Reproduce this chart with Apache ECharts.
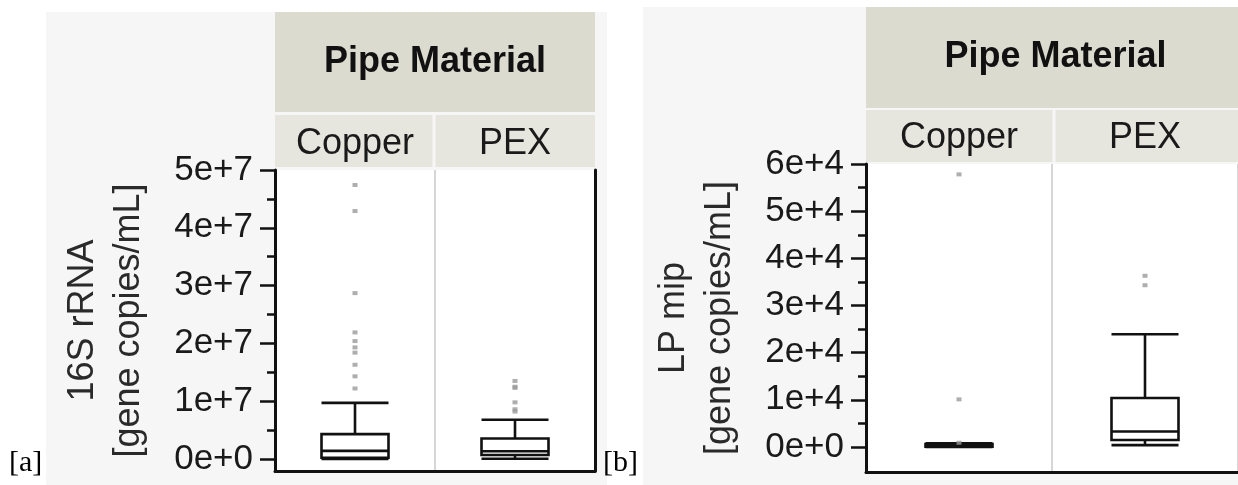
<!DOCTYPE html>
<html>
<head>
<meta charset="utf-8">
<script src="https://cdn.jsdelivr.net/npm/echarts@6/dist/echarts.min.js"></script>
<style>
html,body{margin:0;padding:0;background:#fff;}
#chart{width:1238px;height:485px;}
</style>
</head>
<body>
<div id="chart"></div>
<script>
// ---------- data ----------
const categories = ['Copper', 'PEX'];
const headerTitle = 'Pipe Material';
const yTitleA = '16S rRNA\n[gene copies/mL]';
const yTitleB = 'LP mip\n[gene copies/mL]';
const panelTagA = '[a]';
const panelTagB = '[b]';

// boxplot stats: [min, Q1, median, Q3, max]
const boxA = [
  [0, 220000, 1400000, 4300000, 9700000],
  [50000, 690000, 1330000, 3550000, 6800000]
];
const outliersCopperA = [47400000, 42900000, 28700000, 21900000, 20400000, 19300000, 18400000, 16300000, 14300000, 12200000];
const outliersPexA = [13500000, 12500000, 12300000, 9800000, 8600000, 8200000];

const boxB = [
  [0, 60, 250, 650, 800],
  [400, 1500, 3300, 10400, 23900]
];
const outliersCopperB = [57800, 10100, 900];
const outliersPexB = [36300, 34300];

const tickLabelsA = [0, 1e7, 2e7, 3e7, 4e7, 5e7];
const minorTicksA = [5e6, 1.5e7, 2.5e7, 3.5e7, 4.5e7];
const tickLabelsB = [0, 1e4, 2e4, 3e4, 4e4, 5e4, 6e4];
const minorTicksB = [5e3, 1.5e4, 2.5e4, 3.5e4, 4.5e4, 5.5e4];

// ---------- layout ----------
const W = 1238, H = 485;
const gA = {left: 275, top: 170, right: 595, bottom: 471, min: -2080000, max: 5e7};
const gB = {left: 866, top: 164, right: 1245, bottom: 472, min: -5300, max: 60000};
const FONT = '"Liberation Sans", Arial, sans-serif';
const SERIF = '"Liberation Serif", "Times New Roman", serif';

const fmt = v => Number(v).toExponential(0);

function gridOf(g) {
  return {left: g.left, top: g.top, width: g.right - g.left, height: g.bottom - g.top,
          show: true, backgroundColor: '#ffffff', borderWidth: 0, containLabel: false};
}
function catTop(gi) {
  return {type: 'category', gridIndex: gi, data: categories, position: 'top',
    boundaryGap: true,
    axisLine: {show: false, onZero: false}, axisTick: {show: false},
    axisLabel: {fontSize: 36, color: '#1a1a1a', fontFamily: FONT, margin: 8},
    splitLine: {show: true, lineStyle: {color: '#d6d6d6', width: 2}}};
}
function catBottom(gi) {
  return {type: 'category', gridIndex: gi, data: categories, position: 'bottom',
    axisLine: {show: true, onZero: false, lineStyle: {color: '#111', width: 3}},
    axisTick: {show: false}, axisLabel: {show: false}, splitLine: {show: false}};
}
function valAxis(gi, g, labels, name) {
  return {type: 'value', gridIndex: gi, min: g.min, max: g.max, position: 'left',
    name: name, nameLocation: 'middle', nameRotate: 90, nameGap: 123,
    nameTextStyle: {fontSize: 36, color: '#2a2a2a', fontFamily: FONT, lineHeight: 46, align: 'center'},
    axisLine: {show: true, onZero: false, lineStyle: {color: '#111', width: 3}},
    axisTick: {show: true, length: 15, customValues: labels, lineStyle: {color: '#111', width: 2.5}},
    axisLabel: {customValues: labels, formatter: fmt, fontSize: 35, color: '#1a1a1a', fontFamily: FONT, margin: 22},
    splitLine: {show: false}};
}
function minorAxis(gi, g, minors) {
  return {type: 'value', gridIndex: gi, min: g.min, max: g.max, position: 'left',
    axisLine: {show: false, onZero: false},
    axisTick: {show: true, length: 8, customValues: minors, lineStyle: {color: '#111', width: 2.5}},
    axisLabel: {show: false}, splitLine: {show: false}};
}
function rightAxis(gi) {
  return {type: 'value', gridIndex: gi, position: 'right', min: 0, max: 1,
    axisLine: {show: true, onZero: false, lineStyle: {color: '#111', width: 3}},
    axisTick: {show: false}, axisLabel: {show: false}, splitLine: {show: false}};
}
function pts(idx, arr) { return arr.map(v => [idx, v]); }

function boxSeries(xi, yi, data) {
  return {type: 'boxplot', xAxisIndex: xi, yAxisIndex: yi, data: data,
    boxWidth: [67, 67], silent: true,
    itemStyle: {color: 'rgba(255,255,255,0)', borderColor: '#111', borderWidth: 2.6},
    emphasis: {disabled: true}};
}
function outSeries(xi, yi, data) {
  return {type: 'scatter', xAxisIndex: xi, yAxisIndex: yi, data: data,
    symbol: 'rect', symbolSize: [5, 4], silent: true,
    itemStyle: {color: '#9a9a9a'}, emphasis: {disabled: true}, z: 3};
}

function headerGraphics(g, hTop, hBot, sTop, sBot, divX) {
  const els = [];
  els.push({type: 'rect', z: -50, shape: {x: g.left, y: hTop, width: g.right - g.left, height: hBot - hTop},
            style: {fill: '#dcdbd0'}});
  els.push({type: 'rect', z: -50, shape: {x: g.left, y: sTop, width: divX - g.left - 1.5, height: sBot - sTop},
            style: {fill: '#e7e6de'}});
  els.push({type: 'rect', z: -50, shape: {x: divX + 1.5, y: sTop, width: g.right - divX - 1.5, height: sBot - sTop},
            style: {fill: '#e7e6de'}});
  els.push({type: 'text', z: -40, x: (g.left + g.right) / 2, y: (hTop + hBot) / 2,
            style: {text: headerTitle, fontSize: 36, fontWeight: 'bold', fill: '#111', fontFamily: FONT,
                    align: 'center', verticalAlign: 'middle'}});
  return els;
}

const graphics = [
  {type: 'rect', z: -100, shape: {x: 46, y: 12, width: 561, height: H - 12}, style: {fill: '#f6f6f6'}},
  {type: 'rect', z: -100, shape: {x: 643, y: 7, width: W - 643, height: H - 7}, style: {fill: '#f6f6f6'}},
  ...headerGraphics(gA, 12, 112, 115, 167, 434),
  ...headerGraphics(gB, 7, 108, 110, 162, 1054),
  {type: 'text', x: 9, y: 478, style: {text: panelTagA, fontSize: 30, fill: '#000', fontFamily: SERIF, verticalAlign: 'bottom'}},
  {type: 'text', x: 603, y: 478, style: {text: panelTagB, fontSize: 30, fill: '#000', fontFamily: SERIF, verticalAlign: 'bottom'}}
];

const option = {
  animation: false,
  backgroundColor: '#ffffff',
  grid: [gridOf(gA), gridOf(gB)],
  xAxis: [catTop(0), catBottom(0), catTop(1), catBottom(1)],
  yAxis: [valAxis(0, gA, tickLabelsA, yTitleA), rightAxis(0), minorAxis(0, gA, minorTicksA),
          valAxis(1, gB, tickLabelsB, yTitleB), minorAxis(1, gB, minorTicksB)],
  series: [
    boxSeries(0, 0, boxA),
    outSeries(0, 0, pts(0, outliersCopperA)),
    outSeries(0, 0, pts(1, outliersPexA)),
    boxSeries(2, 3, boxB),
    outSeries(2, 3, pts(0, outliersCopperB)),
    outSeries(2, 3, pts(1, outliersPexB))
  ],
  graphic: graphics
};

const chart = echarts.init(document.getElementById('chart'), null, {renderer: 'canvas'});
chart.setOption(option);
</script>
</body>
</html>
